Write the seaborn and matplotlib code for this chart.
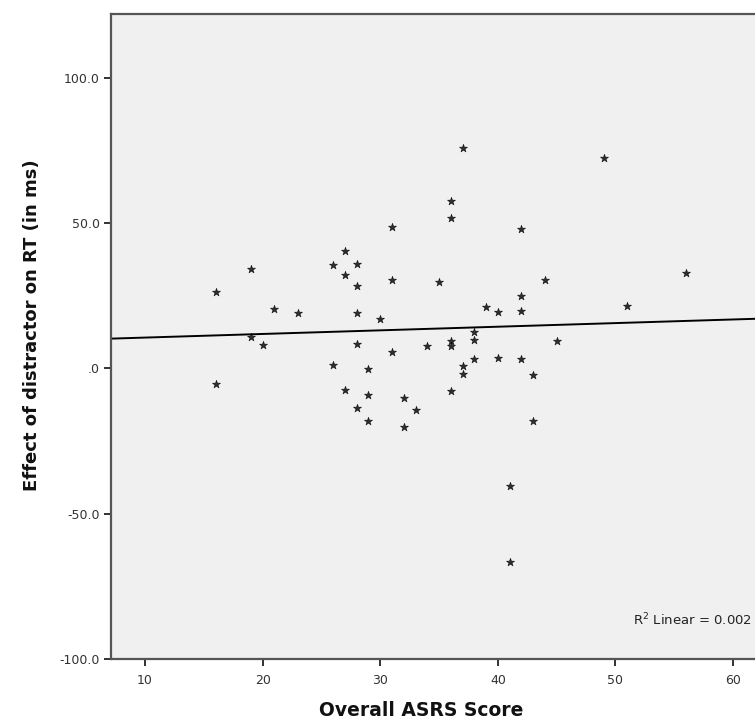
import matplotlib
matplotlib.use("Agg")
import matplotlib.pyplot as plt
import seaborn as sns
import pandas as pd
from matplotlib.ticker import FixedLocator, FuncFormatter

asrs_score = [16, 16, 19, 19, 20, 21, 23, 26, 26, 27, 27, 27, 28, 28, 28, 28, 28,
              29, 29, 29, 30, 31, 31, 31, 32, 32, 33, 34, 35, 36, 36, 36, 36, 36,
              37, 37, 37, 38, 38, 38, 39, 40, 40, 41, 41, 42, 42, 42, 42, 43, 43,
              44, 45, 49, 51, 56]
distractor_effect = [26.3, -5.3, 34.1, 10.7, 8.1, 20.5, 19.2, 35.6, 1.2, 40.6, 32.2, -7.5,
                     35.9, 28.4, 19.0, 8.5, -13.5, -0.1, -9.2, -18.2, 17.0, 48.8, 30.4, 5.7,
                     -10.3, -20.1, -14.3, 7.7, 29.9, 57.7, 51.8, 9.5, 7.7, -7.6, 75.8, 1.0,
                     -2.0, 12.5, 9.8, 3.3, 21.1, 19.3, 3.6, -40.4, -66.6, 48.1, 24.9, 19.9,
                     3.2, -2.3, -18.0, 30.6, 9.4, 72.6, 21.5, 33.0]
x_ticks = [10, 20, 30, 40, 50, 60]
y_ticks = [-100, -50, 0, 50, 100]
r2_label = "R$^2$ Linear = 0.002"

df = pd.DataFrame({"asrs": asrs_score, "effect": distractor_effect})

sns.set_theme(style="ticks")
plt.rcParams["font.family"] = ["DejaVu Sans"]

fig = plt.figure(figsize=(7.55, 7.23), dpi=100)
ax = fig.add_axes([111 / 755, 64 / 723, 1 - 111 / 755 + 0.002, 645 / 723])
ax.set_facecolor("#f0f0f0")
ax.set_xlim(7.1, 62.0)
ax.set_ylim(-100, 122)

sns.regplot(data=df, x="asrs", y="effect", ax=ax, ci=None, truncate=False,
            marker="*",
            scatter_kws=dict(s=36, color="black", edgecolors="black", linewidths=0.5, zorder=3),
            line_kws=dict(color="black", linewidth=1.4, zorder=2))

ax.set_xlim(7.1, 62.0)
ax.set_ylim(-100, 122)
ax.xaxis.set_major_locator(FixedLocator(x_ticks))
ax.yaxis.set_major_locator(FixedLocator(y_ticks))

def yfmt(v, pos):
    if v == 0:
        return ".0"
    return f"{v:.1f}"

ax.yaxis.set_major_formatter(FuncFormatter(yfmt))
ax.tick_params(axis="both", direction="out", length=5, width=1.3, color="#222222",
               labelsize=9, labelcolor="#333333", pad=3)
ax.tick_params(axis="x", pad=6)

for side in ["left", "bottom", "top", "right"]:
    ax.spines[side].set_color("#555555")
    ax.spines[side].set_linewidth(1.6)
ax.spines["right"].set_visible(False)

ax.set_xlabel("Overall ASRS Score", fontsize=13.5, fontweight="bold", color="#111111")
ax.set_ylabel("Effect of distractor on RT (in ms)", fontsize=13, fontweight="bold",
              color="#111111")
ax.xaxis.set_label_coords(0.481, -0.065)
ax.yaxis.set_label_coords(-0.108, 0.518)

fig.text(752 / 755, (723 - 628) / 723, r2_label, ha="right", va="bottom",
         fontsize=9.5, color="#222222")

fig.savefig("out.png", dpi=100, facecolor="white")
